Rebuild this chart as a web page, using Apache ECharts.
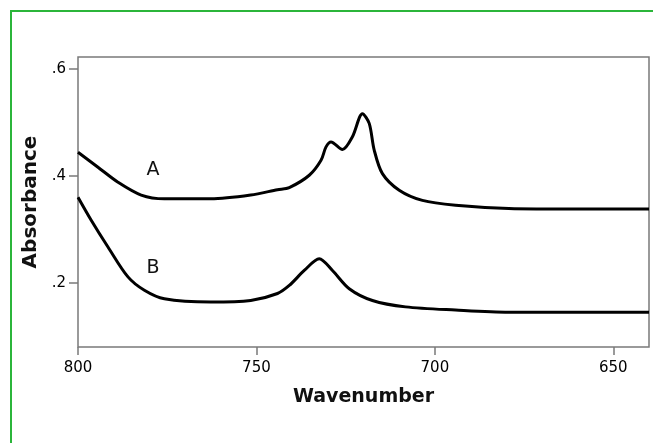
<!DOCTYPE html>
<html>
<head>
<meta charset="utf-8">
<script src="https://cdn.jsdelivr.net/npm/echarts@6/dist/echarts.min.js"></script>
<style>
  html, body { margin: 0; padding: 0; background: #fff; }
  #chart { width: 653px; height: 443px; }
</style>
</head>
<body>
<div id="chart"></div>
<script>
// 曲线 A
var waveA = [800, 794.4, 788.8, 782.3, 775.8, 762.8, 751.6, 744.1, 740.8, 735.2, 731.9, 730.5, 729.1, 725.9, 723.1, 720.3, 718.4, 717, 714.7, 710, 703.5, 694.2, 679.3, 660, 640];
var absA  = [0.444, 0.416, 0.388, 0.364, 0.357, 0.357, 0.364, 0.374, 0.378, 0.401, 0.429, 0.454, 0.463, 0.449, 0.473, 0.516, 0.498, 0.448, 0.404, 0.373, 0.354, 0.345, 0.339, 0.338, 0.338];
// 曲线 B
var waveB = [800, 796.3, 791.6, 786, 781.4, 775.8, 762.8, 751.6, 744.1, 740.8, 736.6, 732.4, 728.7, 724, 717.5, 708.2, 694.2, 679.3, 660, 640];
var absB  = [0.36, 0.317, 0.267, 0.211, 0.186, 0.170, 0.164, 0.167, 0.180, 0.195, 0.223, 0.245, 0.223, 0.189, 0.167, 0.155, 0.149, 0.145, 0.145, 0.145];
// 刻度
var xTicks = [800, 750, 700, 650];
var yTicks = [0.2, 0.4, 0.6];
// 曲线标注
var tagNames = ['A', 'B'];
var tagWave = [779, 779];
var tagAbs = [0.411, 0.227];

function pairs(xs, ys) {
    var out = [];
    for (var i = 0; i < xs.length; i++) out.push([xs[i], ys[i]]);
    return out;
}

function tag(i) {
    return {
        symbol: 'circle', symbolSize: 1, itemStyle: { color: 'transparent' },
        label: { show: true, formatter: tagNames[i], fontFamily: font, fontSize: 19, color: '#111' },
        data: [{ coord: [tagWave[i], tagAbs[i]] }]
    };
}

var chart = echarts.init(document.getElementById('chart'));
var font = 'DejaVu Sans';
var option = {
    animation: false,
    backgroundColor: '#fff',
    grid: {
        left: 78, top: 57, right: 4, bottom: 96,
        show: true, borderColor: '#7a7a7a', borderWidth: 1.5
    },
    xAxis: {
        type: 'value', inverse: true, min: 640, max: 800,
        name: 'Wavenumber', nameLocation: 'middle', nameGap: 41,
        nameTextStyle: { fontFamily: font, fontSize: 19, color: '#111', fontWeight: 'bold' },
        axisLine: { show: false },
        axisTick: { show: true, customValues: xTicks, length: 8, lineStyle: { color: '#7a7a7a', width: 1.5 } },
        axisLabel: { customValues: xTicks, fontFamily: font, fontSize: 15, color: '#000', margin: 14 },
        splitLine: { show: false }
    },
    yAxis: {
        type: 'value', min: 0.08, max: 0.622,
        name: 'Absorbance', nameLocation: 'middle', nameGap: 36,
        nameTextStyle: { fontFamily: font, fontSize: 20, color: '#111', fontWeight: 'bold' },
        axisLine: { show: false },
        axisTick: { show: true, customValues: yTicks, length: 9, lineStyle: { color: '#7a7a7a', width: 1.5 } },
        axisLabel: {
            customValues: yTicks, fontFamily: font, fontSize: 15, color: '#000', margin: 12,
            formatter: function (v) { return '.' + Math.round(v * 10); }
        },
        splitLine: { show: false }
    },
    graphic: [{
        type: 'polyline',
        shape: { points: [[11, 443], [11, 11], [653, 11]] },
        style: { stroke: '#2bb53a', lineWidth: 2, fill: null }
    }],
    series: [
        {
            type: 'line', data: pairs(waveA, absA), smooth: 0.3, showSymbol: false,
            lineStyle: { color: '#000', width: 3 },
            markPoint: tag(0)
        },
        {
            type: 'line', data: pairs(waveB, absB), smooth: 0.3, showSymbol: false,
            lineStyle: { color: '#000', width: 3 },
            markPoint: tag(1)
        }
    ]
};
chart.setOption(option);
window.onresize = chart.resize;
</script>
</body>
</html>
